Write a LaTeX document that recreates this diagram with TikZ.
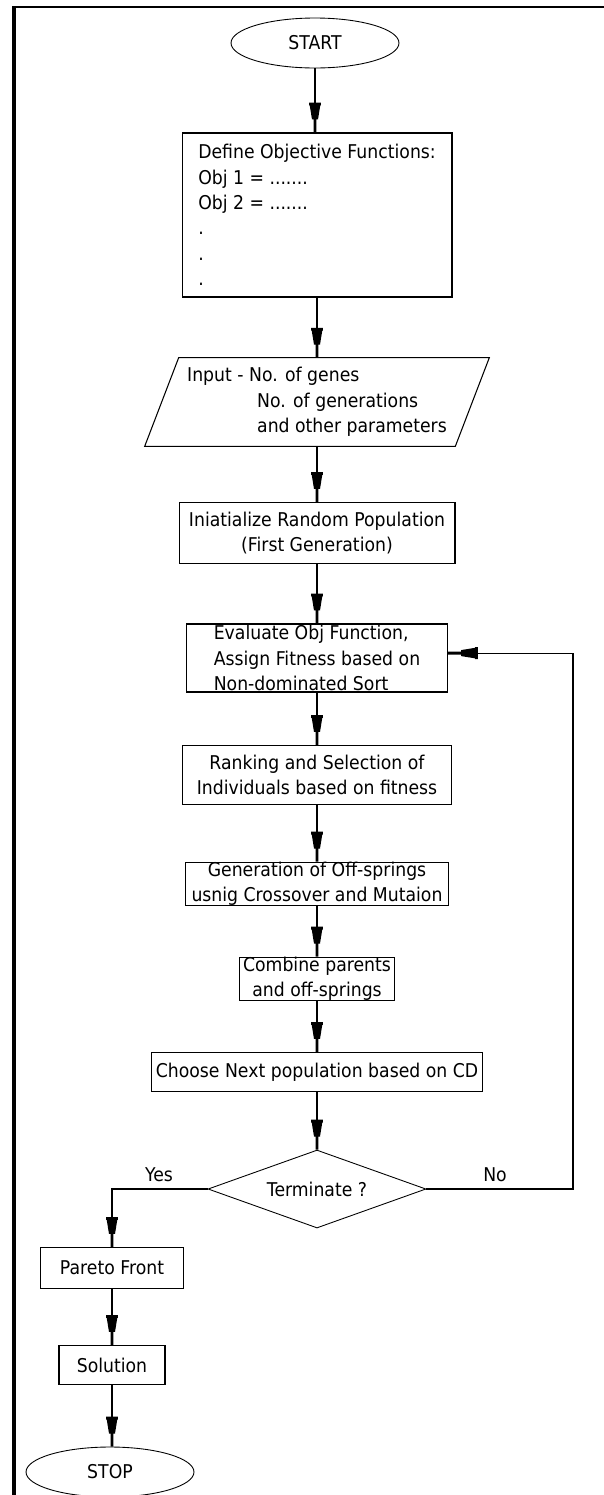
\documentclass[tikz,border=0pt]{standalone}
\usepackage{fontspec}
\setmainfont{DejaVu Sans}[FakeStretch=0.91]
\usetikzlibrary{arrows.meta,calc,shapes.geometric}
\pgfdeclarearrow{
  name=Plug,
  setup code={
    \pgfarrowssettipend{0pt}
    \pgfarrowssetlineend{-8pt}
    \pgfarrowssetbackend{-17pt}
    \pgfarrowshullpoint{0pt}{0.85pt}
    \pgfarrowshullpoint{0pt}{-0.85pt}
    \pgfarrowshullpoint{-17pt}{3.4pt}
    \pgfarrowshullpoint{-17pt}{-3.4pt}
  },
  drawing code={
    \pgfpathmoveto{\pgfqpoint{0pt}{0.85pt}}
    \pgfpathlineto{\pgfqpoint{-7.4pt}{0.85pt}}
    \pgfpathlineto{\pgfqpoint{-7.4pt}{1.7pt}}
    \pgfpathlineto{\pgfqpoint{-15.4pt}{3pt}}
    \pgfpathlineto{\pgfqpoint{-15.4pt}{3.4pt}}
    \pgfpathlineto{\pgfqpoint{-17pt}{3.4pt}}
    \pgfpathlineto{\pgfqpoint{-17pt}{-3.4pt}}
    \pgfpathlineto{\pgfqpoint{-15.4pt}{-3.4pt}}
    \pgfpathlineto{\pgfqpoint{-15.4pt}{-3pt}}
    \pgfpathlineto{\pgfqpoint{-7.4pt}{-1.7pt}}
    \pgfpathlineto{\pgfqpoint{-7.4pt}{-0.85pt}}
    \pgfpathlineto{\pgfqpoint{0pt}{-0.85pt}}
    \pgfpathclose
    \pgfusepathqfill
  }
}
\tikzset{
  flow/.style={line width=0.6pt, -Plug},
  box/.style={draw, line width=0.6pt, rectangle, inner sep=0pt, align=center},
  startstop/.style={draw, line width=0.5pt, ellipse, inner sep=0pt,
    minimum width=3.36cm, minimum height=1cm},
  decision/.style={draw, line width=0.5pt, diamond, aspect=2.8, inner sep=0pt,
    minimum width=4.36cm, minimum height=1.56cm},
  every node/.style={font=\fontsize{10.8pt}{14.5pt}\selectfont},
}

\begin{document}
\begin{tikzpicture}[x=0.02cm, y=-0.02cm]
			%%%%% START %%%%%
			\useasboundingbox (0,0) rectangle (604,1495);
			
			\draw[line width=2.3pt] (14,1495) -- (14,6);
			\draw[line width=1.3pt] (12,7) -- (604,7);
			
			\node[startstop] (start) at (315,43) {START};
			\node[box, align=left, minimum width=5.4cm, minimum height=3.28cm] (objfun) at (317,215)
			  {Define Objective Functions:\\Obj 1 = .......\\Obj 2 = .......\\.\\.\\.};
			
			\node[inner sep=0pt, align=left, minimum width=6.2cm, minimum height=1.76cm] (input) at (317,402)
			  {Input - No. of genes\\\hspace*{1.4cm}No. of generations\\\hspace*{1.4cm}and other parameters};
			\draw[line width=0.6pt] ($(input.north west)+(17,0)$) -- ($(input.north east)+(17,0)$)
			  -- ($(input.south east)+(-17,0)$) -- ($(input.south west)+(-17,0)$) -- cycle;
			
			\node[box, minimum width=5.52cm, minimum height=1.22cm] (init) at (317,533)
			  {Iniatialize Random Population\\(First Generation)};
			\node[box, align=left, minimum width=5.22cm, minimum height=1.36cm] (evalfit) at (317,658)
			  {Evaluate Obj Function,\\Assign Fitness based on\\Non-dominated Sort};
			\node[box, minimum width=5.38cm, minimum height=1.18cm] (rank) at (317,775)
			  {Ranking and Selection of\\Individuals based on fitness};
			\node[box, minimum width=5.26cm, minimum height=0.84cm] (offspring) at (317,884)
			  {Generation of Off-springs\\usnig Crossover and Mutaion};
			\node[box, minimum width=3.1cm, minimum height=0.82cm] (combine) at (317,979)
			  {Combine parents\\and off-springs};
			\node[box, minimum width=6.64cm, minimum height=0.78cm] (nextpop) at (317,1072)
			  {Choose Next population based on CD};
			
			\node[decision] (check) at (317,1189) {Terminate ?};
			\node (yes) at (159,1175) {Yes};
			\node (no) at (495,1175) {No};
			
			\node[box, minimum width=2.86cm, minimum height=0.82cm] (pareto) at (112,1268) {Pareto Front};
			\node[box, minimum width=2.12cm, minimum height=0.78cm] (solution) at (112,1365) {Solution};
			\node[startstop] (stop) at (110,1472) {STOP};
			
			\draw[flow] (start.south) -- (start.south |- objfun.north);
			\draw[flow] (objfun) -- (input);
			\draw[flow] (input) -- (init);
			\draw[flow] (init) -- (evalfit);
			\draw[flow] (evalfit) -- (rank);
			\draw[flow] (rank) -- (offspring);
			\draw[flow] (offspring) -- (combine);
			\draw[flow] (combine) -- (nextpop);
			\draw[flow] (nextpop) -- (check);
			
			\coordinate (yesturn) at (112,1189);
			\draw[flow] (check.west) -- (yesturn) -- (pareto);
			\draw[flow] (pareto) -- (solution);
			\draw[flow] (solution.south) -- (solution.south |- stop.north);
			
			\coordinate (noturn) at (573,1189);
			\draw[flow] (check.east) -- (noturn) |- ([yshift=2.8pt]evalfit.east);
			
			%%%%% END %%%%%
		\end{tikzpicture}
\end{document}
